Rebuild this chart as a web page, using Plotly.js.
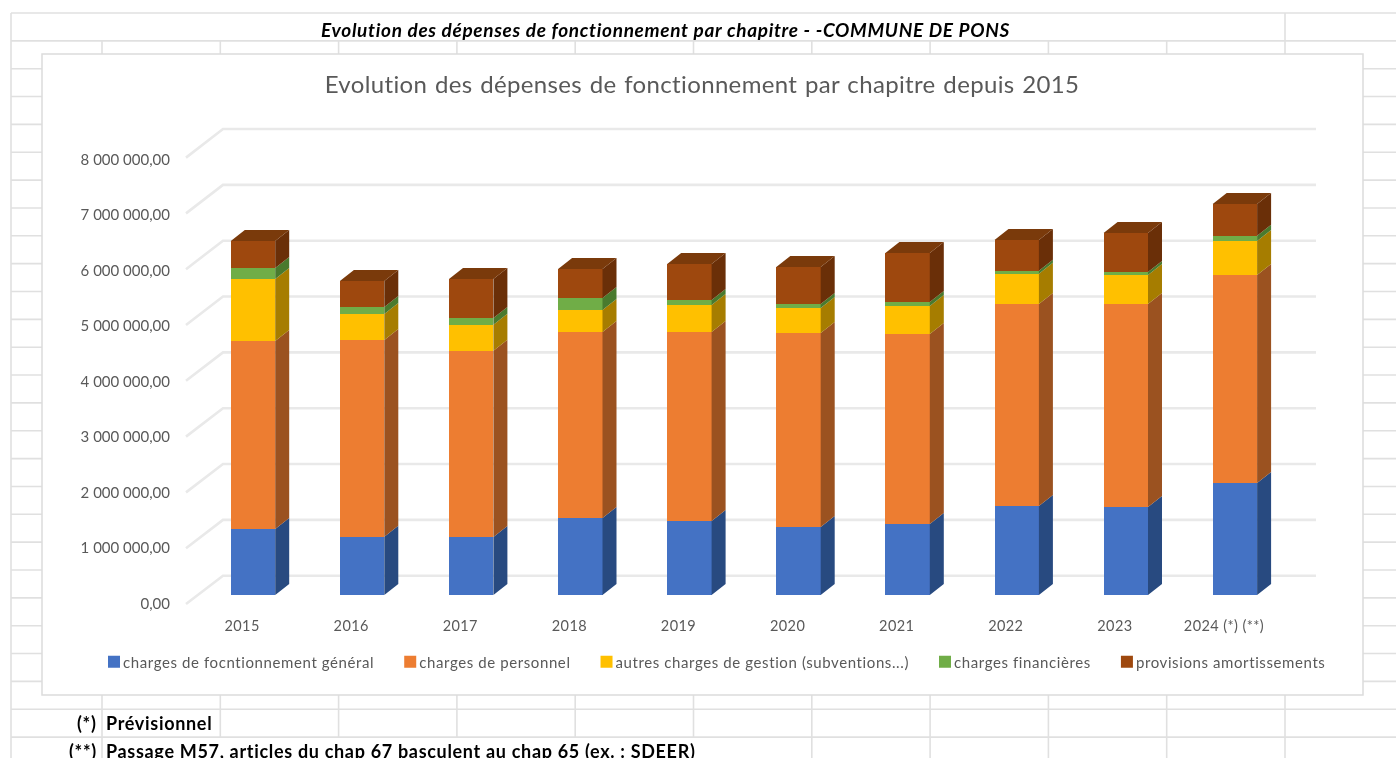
<!DOCTYPE html>
<html><head><meta charset="utf-8">
<script src="https://cdn.plot.ly/plotly-3.0.1.min.js"></script>
<style>
html,body{margin:0;padding:0;background:#fff}
#chart{width:1396px;height:758px;filter:blur(.35px)}
.legendtext{letter-spacing:.6px;transform:translateX(-11px)}
.gtitle{letter-spacing:.35px;word-spacing:1.2px}
.annotation-text{letter-spacing:.68px}
.xtick text{letter-spacing:.4px}
</style>
</head><body><div id="chart"></div>
<script>
// ---- data (euros) ----
const years = ["2015","2016","2017","2018","2019","2020","2021","2022","2023","2024 (*) (**)"];
const fonctionnementGeneral = [1190000,1050000,1045000,1387000,1333000,1225000,1279000,1604000,1586000,2018000];
const personnel = [3387000,3544000,3357000,3351000,3405000,3495000,3423000,3640000,3658000,3748000];
const autresCharges = [1117000,468000,468000,396000,486000,450000,505000,546000,523000,613000];
const financieres = [198000,126000,120000,216000,90000,72000,72000,54000,54000,95000];
const provisions = [486000,468000,703000,523000,649000,667000,883000,553000,703000,571000];
const seriesNames = ["charges de focntionnement général","charges de personnel","autres charges de gestion (subventions...)","charges financières","provisions amortissements"];
const frontColors = ["#4472c4","#ed7d31","#ffc000","#70ad47","#9e480e"];
const sideColors = ["#284a80","#9b5220","#a67d00","#497a2e","#6a2f08"];
const topColor = "#7a3a0b";
const yTickValues = [0,1000000,2000000,3000000,4000000,5000000,6000000,7000000,8000000];
const yTickLabels = ["0,00","1 000 000,00","2 000 000,00","3 000 000,00","4 000 000,00","5 000 000,00","6 000 000,00","7 000 000,00","8 000 000,00"];
const chartTitle = "Evolution des dépenses de fonctionnement par chapitre depuis 2015";
const sheetTitle = "Evolution des dépenses de fonctionnement par chapitre - -COMMUNE DE PONS";
const noteMarks = ["(*)","(**)"];
const noteTexts = ["Prévisionnel","Passage M57, articles du chap 67 basculent au chap 65 (ex. : SDEER)"];
const allSeries = [fonctionnementGeneral,personnel,autresCharges,financieres,provisions];

// ---- geometry of the page and of the fake perspective ----
const W=1396,H=758;
const pxX0=253, pxPerCat=109.1, pxY0=595, pxPerUnit=55.5/1e6;
const domL=180, domR=1330, domT=120, domB=610;
const xOf=p=>(p-pxX0)/pxPerCat, yOf=p=>(pxY0-p)/pxPerUnit;
const dxPx=v=>v/pxPerCat, dyPx=v=>v/pxPerUnit;
const px=v=>v/W, py=v=>1-v/H;
const barW=dxPx(44.4), depthX=dxPx(14), depthY=dyPx(11);

const traces=[];
// front faces: native stacked bars
allSeries.forEach((vals,s)=>traces.push({type:"bar",name:seriesNames[s],x:years.map((_,i)=>i),y:vals,width:barW,
  marker:{color:frontColors[s],line:{width:0}},hoverinfo:"y+name"}));
// side and top faces, derived from the same data
const cum=years.map(()=>0);
allSeries.forEach((vals,s)=>{
  const sx=[],sy=[];
  vals.forEach((v,i)=>{
    const r=i+barW/2,b=cum[i],t=b+v;
    sx.push(r,r+depthX,r+depthX,r,r,null);
    sy.push(b,b+depthY,t+depthY,t,b,null);
    cum[i]=t;
  });
  traces.push({type:"scatter",mode:"none",x:sx,y:sy,fill:"toself",fillcolor:sideColors[s],showlegend:false,hoverinfo:"skip"});
});
const tx=[],ty=[];
cum.forEach((t,i)=>{const l=i-barW/2,r=i+barW/2;
  tx.push(l,r,r+depthX,l+depthX,l,null);ty.push(t,t,t+depthY,t+depthY,t,null);});
traces.push({type:"scatter",mode:"none",x:tx,y:ty,fill:"toself",fillcolor:topColor,showlegend:false,hoverinfo:"skip"});

// ---- spreadsheet background ----
const sheetLine={color:"#e0e0e0",width:1.6};
const shapes=[];
const seg=(x0,y0,x1,y1)=>shapes.push({type:"line",xref:"paper",yref:"paper",layer:"below",x0:px(x0),x1:px(x1),y0:py(y0),y1:py(y1),line:sheetLine});
const rowStep=27.85, colStep=118.3;
for(let r=0;r<=26;r++){const y=13+r*rowStep; seg(11,y,W,y);}
seg(11,13,11,H); seg(1285,13,1285,H);
for(let c=0;c<=9;c++){const x=102+c*colStep; seg(x,41,x,69); seg(x,681,x,737); if(c==0||c>=6) seg(x,737,x,H);}
shapes.push({type:"rect",xref:"paper",yref:"paper",layer:"below",x0:px(42),x1:px(1363),y0:py(54),y1:py(695),fillcolor:"#ffffff",line:{color:"#dcdcdc",width:1.5}});
// 3-D gridlines computed from the tick values
const gridColor="#e9e9e9";
yTickValues.forEach(v=>{
  const m=v/1e6, frontX=xOf(186), backX=xOf(223), endX=xOf(1316);
  const frontY=yOf(604-55.8*m), backY=yOf(575.7-55.83*m);
  shapes.push({type:"path",xref:"x",yref:"y",layer:"below",path:`M${frontX},${frontY}L${backX},${backY}L${endX},${backY}`,line:{color:gridColor,width:2.6}});
});

// ---- texts ----
const noteFont={family:"Lato",size:18,color:"#000"};
const annotations=[
 {text:"<b><i>"+sheetTitle+"</i></b>",xref:"paper",yref:"paper",x:px(665),y:py(29),showarrow:false,xanchor:"center",yanchor:"middle",font:{family:"Lato",size:19,color:"#000"}},
];
[723,751].forEach((y,i)=>{
 annotations.push({text:"<b>"+noteMarks[i]+"</b>",xref:"paper",yref:"paper",x:px(99),y:py(y),showarrow:false,xanchor:"right",yanchor:"middle",font:noteFont});
 annotations.push({text:"<b>"+noteTexts[i]+"</b>",xref:"paper",yref:"paper",x:px(104),y:py(y),showarrow:false,xanchor:"left",yanchor:"middle",font:noteFont});
});

const layout={
 width:W,height:H,margin:{l:0,r:0,t:0,b:0,pad:0},paper_bgcolor:"#ffffff",plot_bgcolor:"rgba(0,0,0,0)",
 barmode:"stack",bargap:0,
 font:{family:"Lato",color:"#595959",size:15},
 title:{text:chartTitle,x:702/W,xanchor:"center",y:py(85),yanchor:"middle",font:{family:"Lato",size:24,color:"#595959"}},
 xaxis:{domain:[px(domL),px(domR)],range:[xOf(domL),xOf(domR)],tickmode:"array",tickvals:years.map((_,i)=>i-0.1),ticktext:years,
   showgrid:false,zeroline:false,showline:false,ticks:"outside",ticklen:3,tickcolor:"rgba(0,0,0,0)",tickfont:{size:14.5,color:"#595959"},fixedrange:true},
 yaxis:{domain:[py(domB),py(domT)],range:[yOf(domB),yOf(domT)],tickmode:"array",tickvals:yTickValues.map(v=>yOf(601-55.5*v/1e6)+dyPx(-2.5)),ticktext:yTickLabels,
   showgrid:false,zeroline:false,showline:false,ticks:"outside",ticklen:6,tickcolor:"rgba(0,0,0,0)",tickfont:{size:15,color:"#595959"},fixedrange:true},
 showlegend:true,
 legend:{orientation:"h",x:px(94),xanchor:"left",y:py(662),yanchor:"middle",font:{family:"Lato",size:15,color:"#595959"},bgcolor:"rgba(0,0,0,0)",itemclick:false,itemdoubleclick:false,traceorder:"normal"},
 shapes,annotations
};
Plotly.newPlot("chart",traces,layout,{displayModeBar:false,staticPlot:true});
</script></body></html>
